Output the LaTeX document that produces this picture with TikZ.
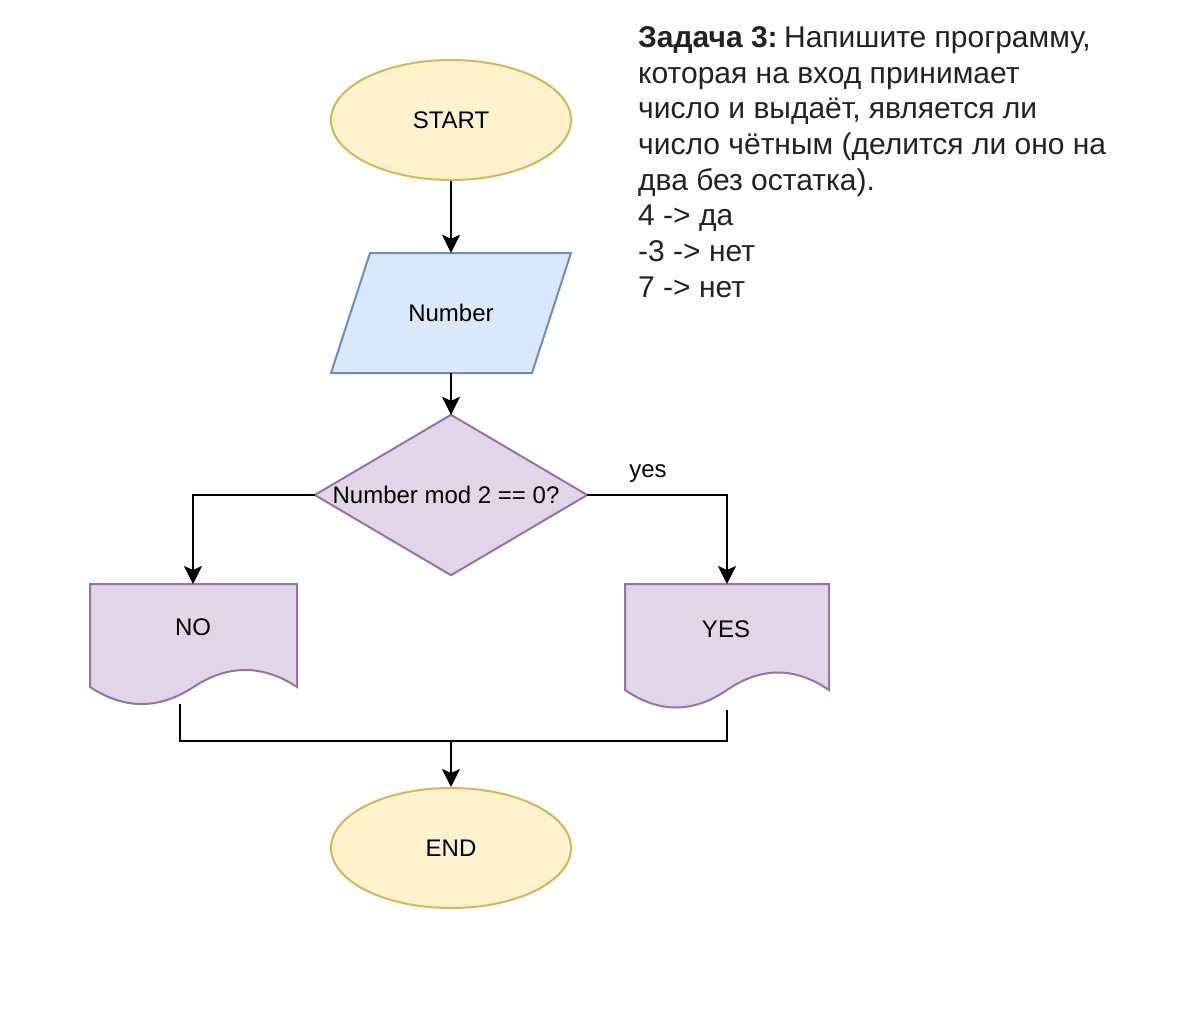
\documentclass[tikz,border=0pt]{standalone}
\usepackage{fontspec}
\setmainfont{Liberation Sans}
\usetikzlibrary{shapes.geometric,arrows.meta}
\definecolor{yfill}{HTML}{FFF2CC}
\definecolor{ydraw}{HTML}{D6B656}
\definecolor{bfill}{HTML}{DAE8FC}
\definecolor{bdraw}{HTML}{6C8EBF}
\definecolor{pfill}{HTML}{E1D5E7}
\definecolor{pdraw}{HTML}{9673A6}
\definecolor{tasktext}{HTML}{222222}
\tikzset{
  terminal/.style={ellipse, draw=ydraw, fill=yfill, line width=2pt, minimum width=240pt, minimum height=120pt, inner sep=0pt, font=\fontsize{24}{28}\selectfont},
  boxarea/.style={rectangle, inner sep=0pt, font=\fontsize{24}{28}\selectfont},
  iopath/.style={draw=bdraw, fill=bfill, line width=2pt, line join=miter},
  decpath/.style={draw=pdraw, fill=pfill, line width=2pt},
  docpath/.style={draw=pdraw, fill=pfill, line width=2pt},
  conn/.style={draw=black, line width=2.2pt},
  arr/.style={conn, -{Stealth[length=18pt, width=18pt, inset=4pt]}},
  lbl/.style={font=\fontsize{24}{28}\selectfont, inner sep=0pt},
  task/.style={anchor=base west, inner sep=0pt, text=tasktext, font=\fontsize{30}{36}\selectfont}
}
\begin{document}
\begin{tikzpicture}[x=1pt, y=-1pt]
\useasboundingbox (0,0) rectangle (1200,1010);

% START
\node[terminal] (start) at (451,120) {START};

% Number (input)
\node[boxarea, minimum width=240pt, minimum height=120pt] (num) at (451,313) {};
\draw[iopath] (370,253) -- (571,253) -- (532,373) -- (331,373) -- cycle;
\node[lbl] (numtxt) at (451,313) {Number};

% decision
\node[boxarea, minimum width=272pt, minimum height=160pt] (dec) at (451,495) {};
\draw[decpath] (dec.north) -- (dec.east) -- (dec.south) -- (dec.west) -- cycle;
\node[lbl] (dectxt) at (446,495) {Number mod 2 == 0?};

% NO document
\draw[docpath] (90,584) -- (297,584) -- (297,687)
  .. controls (262.5,664.3) and (228,664.3) .. (193.5,687)
  .. controls (159,709.7) and (124.5,709.7) .. (90,687) -- cycle;
\node[lbl] (no) at (193,627) {NO};
\coordinate (notop) at (193,584);
\coordinate (nobot) at (180,704);

% YES document
\draw[docpath] (625,584) -- (829,584) -- (829,690)
  .. controls (795,666.7) and (761,666.7) .. (727,690)
  .. controls (693,713.3) and (659,713.3) .. (625,690) -- cycle;
\node[lbl] (yes) at (726,629) {YES};
\coordinate (yestop) at (727,584);
\coordinate (yesbot) at (727,710);

% END
\node[terminal] (end) at (451,848) {END};

% connectors
\draw[arr] (start.south) -- (num.north);
\draw[arr] (num.south) -- (dec.north);
\draw[arr] (dec.west) -| (notop);
\draw[arr] (dec.east) -| (yestop);
\node[lbl] (yeslbl) at (648,474) {yes};
\coordinate (join) at (451,741);
\draw[conn] (nobot) |- (join) -| (yesbot);
\draw[arr] (join) -- (end.north);

% task text
\node[task] (t1) at (638,47) {\textbf{Задача 3:}\kern-2pt\ Напишите программу,};
\node[task] (t2) at (638,83) {которая на вход принимает};
\node[task] (t3) at (638,118) {число и выдаёт, является ли};
\node[task] (t4) at (638,154) {число чётным (делится ли оно на};
\node[task] (t5) at (638,190) {два без остатка).};
\node[task] (t6) at (638,225) {4 -> да};
\node[task] (t7) at (638,261) {-3 -> нет};
\node[task] (t8) at (638,297) {7 -> нет};
\end{tikzpicture}
\end{document}
